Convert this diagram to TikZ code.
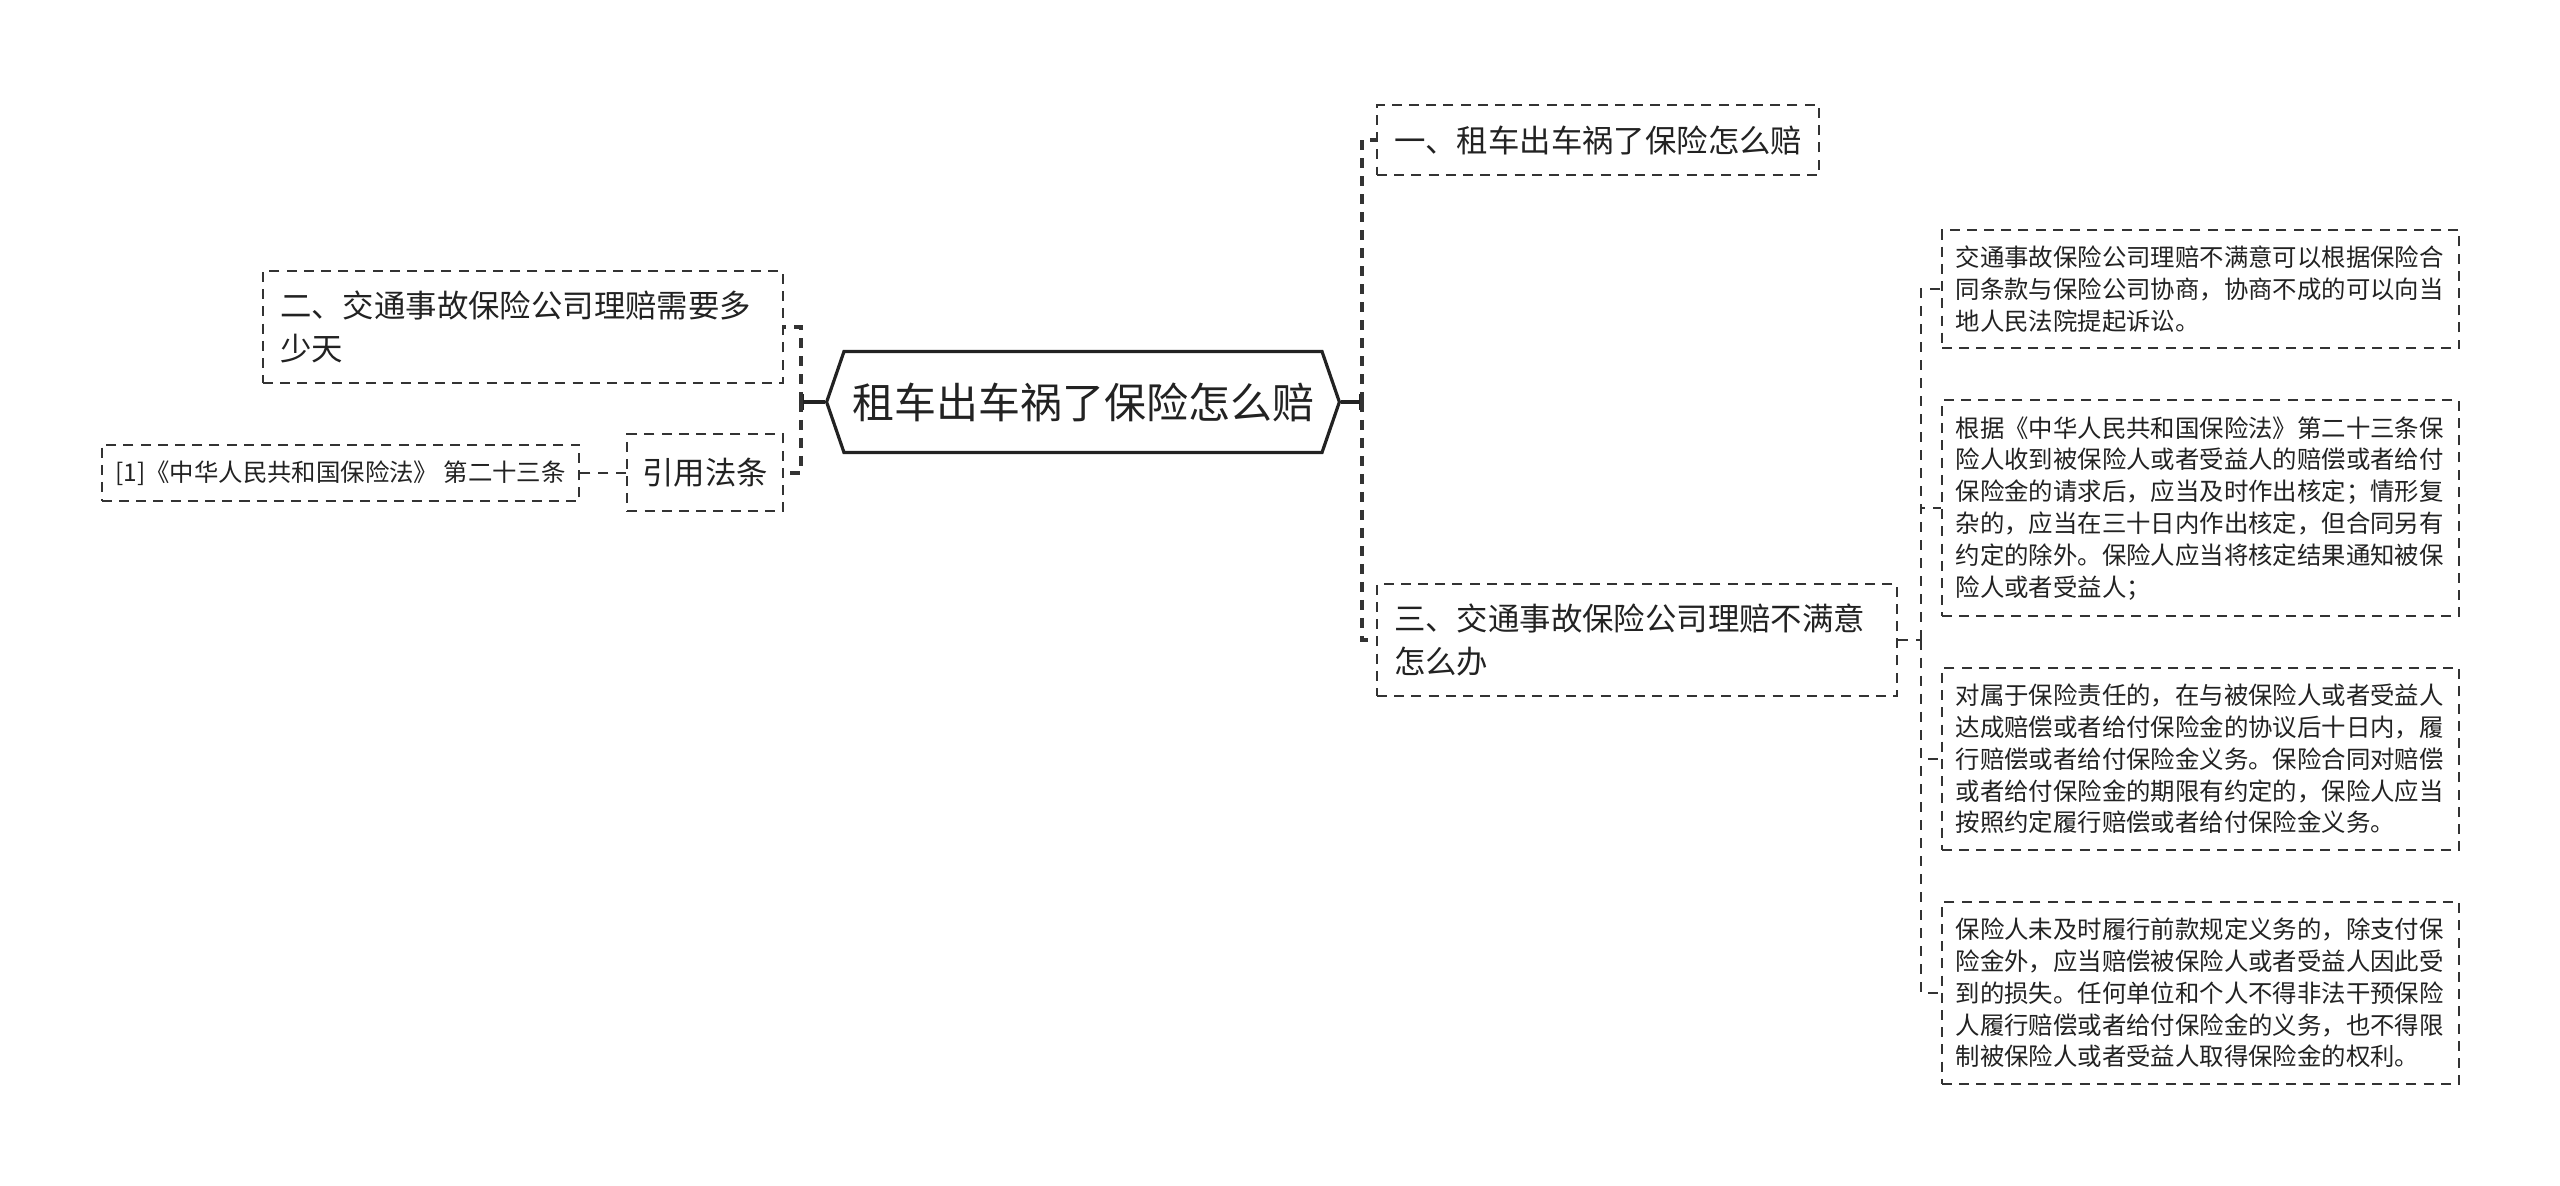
\documentclass[tikz,border=0pt]{standalone}
\usepackage{fontspec}
\usepackage{xcolor}
\usepackage{tikz}
\usetikzlibrary{arrows.meta,positioning,shapes.symbols}
\newfontfamily\cjk{Noto Sans CJK SC}
\definecolor{inkdark}{HTML}{222222}
\definecolor{linegray}{HTML}{333333}

\begin{document}
\begin{tikzpicture}[
  x=0.25pt, y=0.25pt,
  node distance=12.5pt and 11.5pt,
  every node/.style={text=inkdark},
  rootbox/.style={signal, signal to=west and east, signal pointer angle=142, draw=inkdark, line width=0.8pt,
              font=\cjk\fontsize{10.5}{12}\selectfont, minimum width=124pt, minimum height=25.25pt, inner xsep=2pt},
  box/.style={draw=linegray, line width=0.5pt, dash pattern=on 2.5pt off 1.8pt, align=left},
  topic/.style={box, font=\cjk\fontsize{7.85}{10.6}\selectfont, inner xsep=4.25pt, inner ysep=5pt},
  note/.style={box, font=\cjk\fontsize{6.1}{7.95}\selectfont, inner xsep=3.4pt, inner ysep=4pt},
  detail/.style={note, text width=122.5pt},
  link/.style={draw=linegray, line width=0.9pt, dash pattern=on 2.5pt off 2pt},
  thinlink/.style={link, line width=0.5pt},
  stub/.style={draw=inkdark, line width=0.8pt, -{Bar[width=4pt,line width=0.8pt]}}]
  \useasboundingbox (0,0) rectangle (2560,-1186);
  \node[rootbox] (main) at (1083,-402) {租车出车祸了保险怎么赔};
  \node[topic, anchor=west] (q1) at (1376,-140) {一、租车出车祸了保险怎么赔};
  \node[topic, anchor=west, text width=121.5pt] (q3) at (1376,-640) {三、交通事故保险公司理赔不满意\\怎么办};
  \node[topic, anchor=east, text width=121.5pt] (q2) at (784,-327) {二、交通事故保险公司理赔需要多\\少天};
  \node[topic, anchor=east, inner xsep=3.75pt, minimum height=19.25pt] (law) at (784,-473) {引用法条};
  \node[note, left=of law] (lawref) {[1]《中华人民共和国保险法》 第二十三条};
  \node[detail, anchor=north west] (d1) at (1941,-229) {交通事故保险公司理赔不满意可以根据保险合\\同条款与保险公司协商，协商不成的可以向当\\地人民法院提起诉讼。};
  \node[detail, below=of d1] (d2) {根据《中华人民共和国保险法》第二十三条保\\险人收到被保险人或者受益人的赔偿或者给付\\保险金的请求后，应当及时作出核定；情形复\\杂的，应当在三十日内作出核定，但合同另有\\约定的除外。保险人应当将核定结果通知被保\\险人或者受益人；};
  \node[detail, below=of d2] (d3) {对属于保险责任的，在与被保险人或者受益人\\达成赔偿或者给付保险金的协议后十日内，履\\行赔偿或者给付保险金义务。保险合同对赔偿\\或者给付保险金的期限有约定的，保险人应当\\按照约定履行赔偿或者给付保险金义务。};
  \node[detail, below=of d3] (d4) {保险人未及时履行前款规定义务的，除支付保\\险金外，应当赔偿被保险人或者受益人因此受\\到的损失。任何单位和个人不得非法干预保险\\人履行赔偿或者给付保险金的义务，也不得限\\制被保险人或者受益人取得保险金的权利。};
  \coordinate (jl) at ([xshift=-6pt]main.west);
  \coordinate (jr) at ([xshift=5.25pt]main.east);
  \coordinate (jn) at ([xshift=5.75pt]q3.east);
  \draw[stub] (main.west) -- (jl);
  \draw[stub] (main.east) -- (jr);
  \draw[link] (jl) |- (q2.east);
  \draw[link] (jl) |- (law.east);
  \draw[link] (jr) |- (q1.west);
  \draw[link] (jr) |- (q3.west);
  \draw[thinlink] (law.west) -- (lawref.east);
  \draw[thinlink] (q3.east) -- (jn);
  \draw[thinlink] (jn) |- (d1.west);
  \draw[thinlink] (jn) |- (d2.west);
  \draw[thinlink] (jn) |- (d3.west);
  \draw[thinlink] (jn) |- (d4.west);
\end{tikzpicture}
\end{document}
